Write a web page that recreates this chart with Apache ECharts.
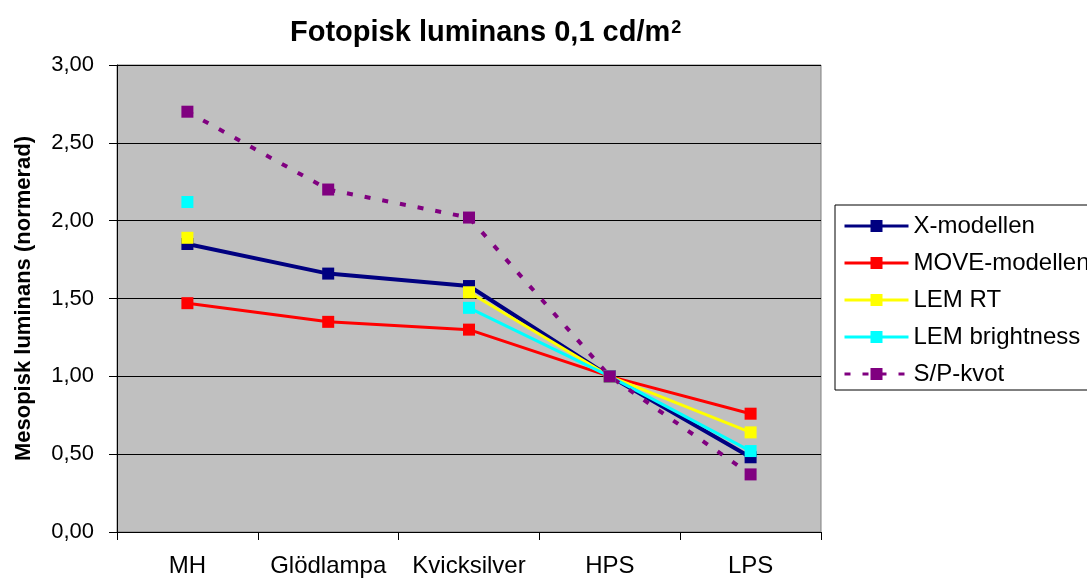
<!DOCTYPE html>
<html>
<head>
<meta charset="utf-8">
<script src="https://cdn.jsdelivr.net/npm/echarts@6/dist/echarts.min.js"></script>
<style>
html,body{margin:0;padding:0;background:#fff;}
#c{width:1087px;height:578px;}
</style>
</head>
<body>
<div id="c"></div>
<script>
var categories = ['MH', 'Glödlampa', 'Kvicksilver', 'HPS', 'LPS'];
var xModellen = [1.85, 1.66, 1.58, 1.00, 0.48];
var moveModellen = [1.47, 1.35, 1.30, 1.00, 0.76];
var lemRT = [1.89, null, 1.54, 1.00, 0.64];
var lemBrightness = [2.12, null, 1.44, 1.00, 0.52];
var spKvot = [2.70, 2.20, 2.02, 1.00, 0.37];
var yTicks = { min: 0, max: 3, interval: 0.5 };

var FONT = '"Liberation Sans", Arial, sans-serif';

function mk(name, data, color, width, dashed) {
  return {
    name: name,
    type: 'line',
    data: data,
    symbol: 'rect',
    symbolSize: 12,
    showAllSymbol: true,
    connectNulls: false,
    animation: false,
    itemStyle: { color: color },
    lineStyle: { color: color, width: width, type: dashed ? [6, 12] : 'solid' },
    emphasis: { disabled: true }
  };
}

var chart = echarts.init(document.getElementById('c'));
chart.setOption({
  backgroundColor: '#fff',
  animation: false,
  title: {
    left: 285,
    top: 11,
    text: '{a|Fotopisk luminans 0,1 cd/m}{s|2}',
    textStyle: {
      rich: {
        a: { fontFamily: FONT, fontSize: 29, fontWeight: 'bold', color: '#000', lineHeight: 34 },
        s: { fontFamily: FONT, fontSize: 18, fontWeight: 'bold', color: '#000', lineHeight: 18, verticalAlign: 'top', padding: [3, 0, 0, 1] }
      }
    }
  },
  legend: {
    orient: 'vertical',
    left: 835,
    top: 205,
    padding: [9, 60, 4, 8],
    itemWidth: 64,
    itemHeight: 15,
    itemGap: 13,
    borderColor: '#000',
    borderWidth: 1,
    backgroundColor: '#fff',
    lineStyle: { width: 3 },
    textStyle: { fontFamily: FONT, fontSize: 24, color: '#000', lineHeight: 24 },
    data: ['X-modellen', 'MOVE-modellen', 'LEM RT', 'LEM brightness', 'S/P-kvot']
  },
  grid: {
    left: 117,
    right: 266,
    top: 65,
    bottom: 45,
    show: true,
    backgroundColor: '#C0C0C0',
    borderColor: '#808080',
    borderWidth: 1
  },
  xAxis: {
    type: 'category',
    data: categories,
    boundaryGap: true,
    axisLine: { lineStyle: { color: '#000', width: 1 } },
    axisTick: { show: true, length: 8, inside: false, alignWithLabel: false, lineStyle: { color: '#000' } },
    axisLabel: { fontFamily: FONT, fontSize: 24, color: '#000', margin: 22, interval: 0 },
    splitLine: { show: false }
  },
  yAxis: {
    type: 'value',
    min: yTicks.min,
    max: yTicks.max,
    interval: yTicks.interval,
    name: 'Mesopisk luminans (normerad)',
    nameLocation: 'middle',
    nameGap: 82,
    nameRotate: 90,
    nameTextStyle: { fontFamily: FONT, fontSize: 22, fontWeight: 'bold', color: '#000' },
    axisLine: { show: true, lineStyle: { color: '#000', width: 1 } },
    axisTick: { show: true, length: 8, inside: false, lineStyle: { color: '#000' } },
    axisLabel: {
      fontFamily: FONT, fontSize: 22, color: '#000', margin: 23,
      formatter: function (v) { return v.toFixed(2).replace('.', ','); }
    },
    splitLine: { show: true, lineStyle: { color: '#000', width: 1 } }
  },
  series: [
    mk('X-modellen', xModellen, '#000080', 4, false),
    mk('MOVE-modellen', moveModellen, '#FF0000', 3, false),
    mk('LEM RT', lemRT, '#FFFF00', 3, false),
    mk('LEM brightness', lemBrightness, '#00FFFF', 3, false),
    mk('S/P-kvot', spKvot, '#800080', 4, true)
  ]
});
</script>
</body>
</html>
